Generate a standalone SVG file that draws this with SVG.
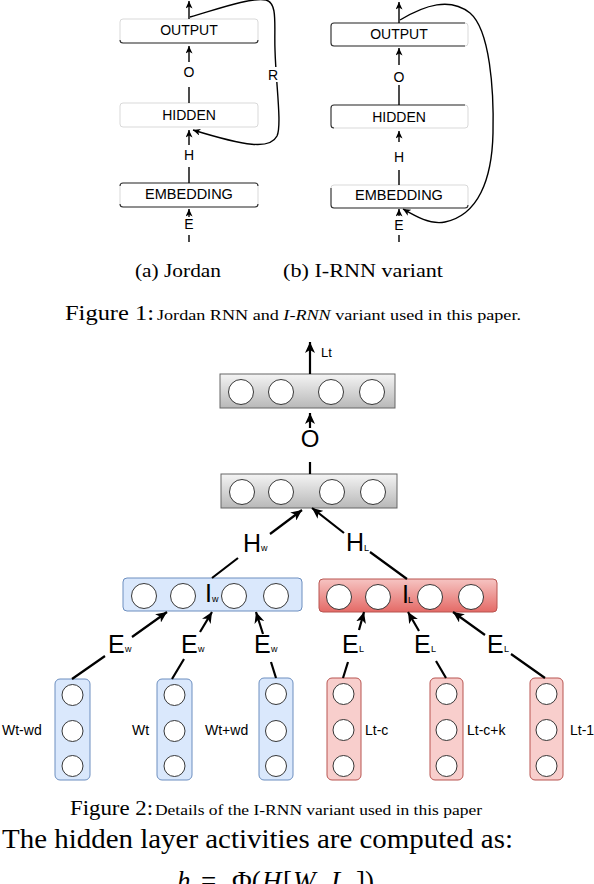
<svg xmlns="http://www.w3.org/2000/svg" width="594" height="884" viewBox="0 0 594 884">
<style>
.bg{fill:#fff}
.f1box{fill:none;stroke:#cfcfcf;stroke-width:0.8}
.edge{fill:none;stroke:#333;stroke-width:1.1}
.l1{font-family:"Liberation Sans",Arial,sans-serif;font-size:14px;text-anchor:middle;fill:#000}
.c1{fill:none;stroke:#000;stroke-width:1.4}
.c2{fill:none;stroke:#000;stroke-width:2.2}
.cir{fill:#fff;stroke:#222;stroke-width:0.9}
.big{font-family:"Liberation Sans",Arial,sans-serif;font-size:25px;fill:#000}
.sub{font-family:"Liberation Sans",Arial,sans-serif;font-size:9px;fill:#000}
.sm{font-family:"Liberation Sans",Arial,sans-serif;font-size:14px;fill:#000}
.cap{font-family:"Liberation Serif","Times New Roman",serif;fill:#000}
.gray{fill:url(#gGray);stroke:#666;stroke-width:1}
.blue{fill:#dae8fc;stroke:#6c8ebf;stroke-width:1}
.red{fill:url(#gRed);stroke:#b85450;stroke-width:1}
.redc{fill:#f8cecc;stroke:#b85450;stroke-width:1}
</style>
<defs>
<linearGradient id="gGray" x1="0" y1="0" x2="0" y2="1"><stop offset="0" stop-color="#f4f4f4"/><stop offset="1" stop-color="#b8b8b8"/></linearGradient>
<linearGradient id="gRed" x1="0" y1="0" x2="0" y2="1"><stop offset="0" stop-color="#f6c4c2"/><stop offset="1" stop-color="#e46a66"/></linearGradient>
<marker id="a1" markerUnits="userSpaceOnUse" markerWidth="8" markerHeight="7" refX="7.5" refY="3.5" orient="auto"><path d="M0,0 L7.5,3.5 L0,7 L2,3.5 z" fill="#000"/></marker>
<marker id="a2" markerUnits="userSpaceOnUse" markerWidth="12" markerHeight="10" refX="11" refY="5" orient="auto"><path d="M0,0 L11,5 L0,10 L3,5 z" fill="#000"/></marker>
</defs>
<rect class="bg" x="0" y="0" width="594" height="884"/>

<!-- Figure 1a Jordan -->
<g id="j-output"><rect class="f1box" x="120" y="19" width="138" height="24" rx="3"/><path class="edge" d="M120,40 Q120,43 123,43 H255 Q258,43 258,40"/><text class="l1" x="189" y="35">OUTPUT</text></g>
<g id="j-hidden"><rect class="f1box" x="120" y="103" width="138" height="24" rx="3"/><text class="l1" x="189" y="120">HIDDEN</text></g>
<g id="j-embedding"><rect class="f1box" x="120" y="183" width="138" height="24" rx="3"/><path class="edge" d="M120,186 Q120,183 123,183 H255 Q258,183 258,186 M120,204 Q120,207 123,207 H255 Q258,207 258,204"/><text class="l1" x="189" y="199" style="font-size:14.5px">EMBEDDING</text></g>

<!-- Figure 1b I-RNN -->
<g id="i-output"><rect class="f1box" x="331" y="23" width="137" height="23" rx="3"/><path class="edge" d="M465,23 H334 Q331,23 331,26 V43 Q331,46 334,46 H465"/><text class="l1" x="399" y="38.5">OUTPUT</text></g>
<g id="i-hidden"><rect class="f1box" x="331" y="105" width="137" height="23" rx="3"/><path class="edge" d="M465,105 H334 Q331,105 331,108 V125 Q331,128 334,128"/><text class="l1" x="399" y="122">HIDDEN</text></g>
<g id="i-embedding"><rect class="f1box" x="331" y="185" width="137" height="23" rx="3"/><path class="edge" d="M331,188 V205 Q331,208 334,208 H465 Q468,208 468,205"/><text class="l1" x="399" y="200" style="font-size:14.5px">EMBEDDING</text></g>

<!-- Figure 2 nodes -->
<g id="out-layer"><rect class="gray" x="220" y="374" width="175" height="34"/><circle class="cir" cx="241" cy="392" r="12.5"/><circle class="cir" cx="281" cy="392" r="12.5"/><circle class="cir" cx="331" cy="392" r="12.5"/><circle class="cir" cx="372" cy="392" r="12.5"/></g>
<g id="hid-layer"><rect class="gray" x="221" y="474" width="176" height="34"/><circle class="cir" cx="242" cy="492" r="12.5"/><circle class="cir" cx="281" cy="492" r="12.5"/><circle class="cir" cx="332" cy="492" r="12.5"/><circle class="cir" cx="373" cy="492" r="12.5"/></g>
<g id="iw-layer"><rect class="blue" x="123" y="578" width="179" height="33" rx="4"/><circle class="cir" cx="144" cy="596" r="12.5"/><circle class="cir" cx="183" cy="596" r="12.5"/><circle class="cir" cx="234" cy="596" r="12.5"/><circle class="cir" cx="276" cy="596" r="12.5"/></g>
<g id="il-layer"><rect class="red" x="319" y="579" width="178" height="33" rx="4"/><circle class="cir" cx="339" cy="597" r="12.5"/><circle class="cir" cx="378" cy="597" r="12.5"/><circle class="cir" cx="430" cy="597" r="12.5"/><circle class="cir" cx="471" cy="597" r="12.5"/></g>

<g id="w1"><rect class="blue" x="55" y="679" width="35" height="101" rx="5"/><circle class="cir" cx="72.5" cy="695" r="10.5"/><circle class="cir" cx="72.5" cy="731" r="10.5"/><circle class="cir" cx="72.5" cy="766" r="10.5"/></g>
<g id="w2"><rect class="blue" x="157" y="679" width="35" height="101" rx="5"/><circle class="cir" cx="174.5" cy="695" r="10.5"/><circle class="cir" cx="174.5" cy="731" r="10.5"/><circle class="cir" cx="174.5" cy="766" r="10.5"/></g>
<g id="w3"><rect class="blue" x="259" y="678" width="34" height="102" rx="5"/><circle class="cir" cx="276" cy="694" r="10.5"/><circle class="cir" cx="276" cy="731" r="10.5"/><circle class="cir" cx="276" cy="766" r="10.5"/></g>
<g id="l1"><rect class="redc" x="327" y="678" width="34" height="102" rx="5"/><circle class="cir" cx="343.5" cy="694" r="10.5"/><circle class="cir" cx="343.5" cy="730" r="10.5"/><circle class="cir" cx="343.5" cy="766" r="10.5"/></g>
<g id="l2"><rect class="redc" x="430" y="678" width="33" height="102" rx="5"/><circle class="cir" cx="446.5" cy="694" r="10.5"/><circle class="cir" cx="446.5" cy="730" r="10.5"/><circle class="cir" cx="446.5" cy="766" r="10.5"/></g>
<g id="l3"><rect class="redc" x="530" y="678" width="33" height="102" rx="5"/><circle class="cir" cx="546.5" cy="694" r="10.5"/><circle class="cir" cx="546.5" cy="730" r="10.5"/><circle class="cir" cx="546.5" cy="766" r="10.5"/></g>

<!-- connectors -->
<g id="connectors">
<path class="c1" d="M189,19 V1" marker-end="url(#a1)"/>
<path class="c1" d="M189,103 V87 M189,62 V46" marker-end="url(#a1)"/>
<path class="c1" d="M189,183 V167 M189,145 V130" marker-end="url(#a1)"/>
<path class="c1" d="M189,242 V235 M189,217 V209" marker-end="url(#a1)"/>
<path class="c1" d="M190,17 C215,10 250,-3 266,0 C278,3 274,25 275,50 C276,85 282,125 277,136 C270,150 245,146 193,130" marker-end="url(#a1)"/>
<path class="c1" d="M399,23 V2" marker-end="url(#a1)"/>
<path class="c1" d="M399,105 V85 M399,65 V48" marker-end="url(#a1)"/>
<path class="c1" d="M399,185 V170 M399,142 V131" marker-end="url(#a1)"/>
<path class="c1" d="M399,242 V235 M399,216 V209" marker-end="url(#a1)"/>
<path class="c1" d="M400,20 C425,5 450,-3 470,13 C490,30 494,90 493,133 C492,180 478,215 445,222 C430,225 415,216 403,209" marker-end="url(#a1)"/>

<path class="c2" d="M310,374 V342" marker-end="url(#a2)"/>
<path class="c2" d="M310,474 V462 M310,428 V413" marker-end="url(#a2)"/>
<path class="c2" d="M212,578 L238,558 M270,534 L302,510" marker-end="url(#a2)"/>
<path class="c2" d="M407,579 L370,552 M344,533 L312,508" marker-end="url(#a2)"/>
<path class="c2" d="M72,679 L105,656 M132,637 L167,612" marker-end="url(#a2)"/>
<path class="c2" d="M172,679 L184,659 M200,632 L212,612" marker-end="url(#a2)"/>
<path class="c2" d="M276,678 L271,662 M263,634 L256,612" marker-end="url(#a2)"/>
<path class="c2" d="M343,678 L348,662 M359,630 L364,612" marker-end="url(#a2)"/>
<path class="c2" d="M446,678 L436,661 M419,631 L408,612" marker-end="url(#a2)"/>
<path class="c2" d="M545,678 L511,654 M485,635 L453,612" marker-end="url(#a2)"/>
</g>

<!-- connector labels -->
<g id="labels">
<text class="l1" x="189" y="77">O</text>
<text class="l1" x="189" y="160">H</text>
<text class="l1" x="189" y="229">E</text>
<rect x="267" y="67" width="13" height="15" fill="#fff"/>
<text class="l1" x="273" y="80">R</text>
<text class="l1" x="399" y="82">O</text>
<text class="l1" x="399" y="162">H</text>
<text class="l1" x="399" y="230">E</text>

<text class="sm" x="321" y="357" style="font-size:13px">Lt</text>
<text class="big" x="310" y="447" text-anchor="middle" style="font-size:24px">O</text>
<text class="big" x="243" y="552">H</text><text class="sub" x="261" y="551">w</text>
<text class="big" x="346" y="551">H</text><text class="sub" x="364" y="551">L</text>
<text class="big" x="205" y="602">I</text><text class="sub" x="212" y="602">w</text>
<text class="big" x="402" y="603">I</text><text class="sub" x="408" y="603">L</text>
<text class="big" x="108" y="653">E</text><text class="sub" x="125" y="652">w</text>
<text class="big" x="181" y="653">E</text><text class="sub" x="198" y="652">w</text>
<text class="big" x="254" y="653">E</text><text class="sub" x="271" y="652">w</text>
<text class="big" x="342" y="653">E</text><text class="sub" x="359" y="652">L</text>
<text class="big" x="414" y="653">E</text><text class="sub" x="431" y="652">L</text>
<text class="big" x="487" y="653">E</text><text class="sub" x="504" y="652">L</text>

<text class="sm" x="2" y="735">Wt-wd</text>
<text class="sm" x="132" y="735">Wt</text>
<text class="sm" x="205" y="735">Wt+wd</text>
<text class="sm" x="365" y="735">Lt-c</text>
<text class="sm" x="467" y="735">Lt-c+k</text>
<text class="sm" x="570" y="735">Lt-1</text>
</g>

<!-- captions -->
<g id="captions">
<text class="cap" x="135" y="277" font-size="19" textLength="86" lengthAdjust="spacingAndGlyphs">(a) Jordan</text>
<text class="cap" x="283" y="277" font-size="19" textLength="160" lengthAdjust="spacingAndGlyphs">(b) I-RNN variant</text>
<text class="cap" x="65" y="320" font-size="20" textLength="89" lengthAdjust="spacingAndGlyphs">Figure 1:</text>
<text class="cap" x="157" y="320" font-size="15" textLength="364" lengthAdjust="spacingAndGlyphs">Jordan RNN and <tspan font-style="italic">I-RNN</tspan> variant used in this paper.</text>
<text class="cap" x="70" y="815" font-size="20" textLength="83" lengthAdjust="spacingAndGlyphs">Figure 2:</text>
<text class="cap" x="155" y="815" font-size="15" textLength="327" lengthAdjust="spacingAndGlyphs">Details of the I-RNN variant used in this paper</text>
<text class="cap" x="2" y="848" font-size="27" textLength="511" lengthAdjust="spacingAndGlyphs">The hidden layer activities are computed as:</text>
<text class="cap" y="890" font-size="27"><tspan x="177" font-style="italic">h</tspan><tspan x="190" font-size="16" dy="4" font-style="italic">t</tspan><tspan x="201" dy="-4">=</tspan><tspan x="232">Φ(</tspan><tspan x="262" font-style="italic">H</tspan><tspan x="283">[</tspan><tspan x="293" font-style="italic">W</tspan><tspan x="317" font-size="16" dy="4" font-style="italic">t</tspan><tspan x="324" dy="-4">,</tspan><tspan x="331" font-style="italic">L</tspan><tspan x="347" font-size="16" dy="4" font-style="italic">t</tspan><tspan x="356" dy="-4">])</tspan></text>
</g>
</svg>
